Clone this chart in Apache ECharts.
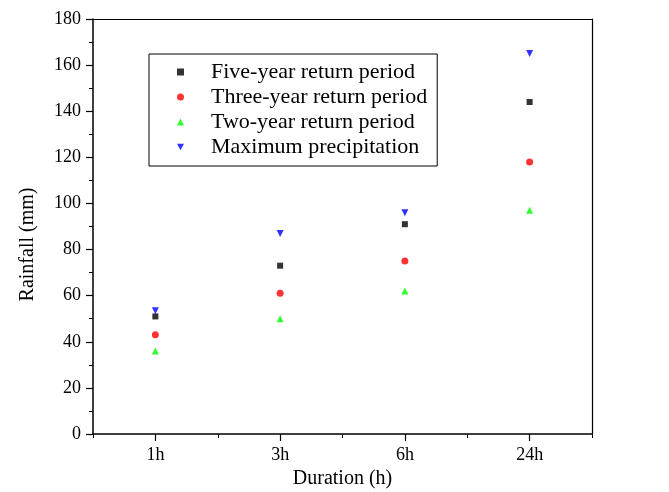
<!DOCTYPE html>
<html><head><meta charset="utf-8">
<script src="https://cdn.jsdelivr.net/npm/echarts@6/dist/echarts.min.js"></script>
<style>html,body{margin:0;padding:0;background:#fff}#c{width:669px;height:492px}</style>
</head><body><div id="c"></div>
<script>
const categories = ['1h', '3h', '6h', '24h'];
const fiveYear = [51, 73, 91, 144];
const threeYear = [43, 61, 75, 118];
const twoYear = [36, 50, 62, 97];
const maxPrecip = [53.5, 87, 96, 165];
const yTicks = [0, 20, 40, 60, 80, 100, 120, 140, 160, 180];

const font = 'Liberation Serif';
const chart = echarts.init(document.getElementById('c'), null, {renderer: 'canvas'});
const axisLine = {show: true, lineStyle: {color: '#000', width: 1.5}};
chart.setOption({
  animation: false,
  backgroundColor: '#fff',
  grid: {left: 93, right: 77, top: 19, bottom: 58, containLabel: false, outerBoundsMode: 'none'},
  legend: {
    orient: 'vertical', left: 149, top: 54,
    padding: [7, 10, 8, 28],
    itemWidth: 7, itemHeight: 7, itemGap: 3,
    borderColor: '#000', borderWidth: 1,
    textStyle: {fontFamily: font, fontSize: 22, color: '#000', lineHeight: 22, padding: [0, 0, 0, 22]},
    data: [
      {name: 'Five-year return period'},
      {name: 'Three-year return period'},
      {name: 'Two-year return period'},
      {name: 'Maximum precipitation', icon: 'path://M0,0L10,0L5,9Z'}
    ]
  },
  xAxis: [{
    type: 'category', data: categories, boundaryGap: true,
    name: 'Duration (h)', nameLocation: 'middle', nameGap: 35,
    nameTextStyle: {fontFamily: font, fontSize: 20, color: '#000'},
    axisLine: axisLine,
    axisTick: {show: true, alignWithLabel: true, length: 7, lineStyle: {color: '#000', width: 1.2}},
    axisLabel: {fontFamily: font, fontSize: 18, color: '#000', margin: 12},
    splitLine: {show: false}
  }, {
    type: 'value', position: 'bottom', min: 0, max: 4, interval: 1,
    axisLine: {show: false}, axisLabel: {show: false}, splitLine: {show: false},
    axisTick: {show: true, length: 4, lineStyle: {color: '#000', width: 1}}
  }, {
    type: 'category', position: 'top', data: categories,
    axisLine: {show: true, lineStyle: {color: '#000', width: 1.2}},
    axisTick: {show: false}, axisLabel: {show: false}
  }],
  yAxis: [{
    type: 'value', min: 0, max: 180, interval: 20,
    name: 'Rainfall (mm)', nameLocation: 'middle', nameGap: 55,
    nameTextStyle: {fontFamily: font, fontSize: 20, color: '#000', padding: [0, 36, 0, 0]},
    axisLine: axisLine,
    axisTick: {show: true, length: 7, lineStyle: {color: '#000', width: 1.2}},
    minorTick: {show: true, splitNumber: 2, length: 4, lineStyle: {color: '#000', width: 1}},
    axisLabel: {fontFamily: font, fontSize: 18, color: '#000', margin: 12,
      formatter: v => yTicks.includes(v) ? String(v) : ''},
    splitLine: {show: false}
  }, {
    type: 'value', position: 'right', min: 0, max: 180,
    axisLine: {show: true, lineStyle: {color: '#000', width: 1.2}},
    axisTick: {show: false}, axisLabel: {show: false}, splitLine: {show: false}
  }],
  series: [
    {name: 'Five-year return period', type: 'scatter', data: fiveYear, symbol: 'rect', symbolSize: 6, itemStyle: {color: '#000'}},
    {name: 'Three-year return period', type: 'scatter', data: threeYear, symbol: 'circle', symbolSize: 7, itemStyle: {color: '#ff0000'}},
    {name: 'Two-year return period', type: 'scatter', data: twoYear, symbol: 'triangle', symbolSize: 7, itemStyle: {color: '#00ff00'}},
    {name: 'Maximum precipitation', type: 'scatter', data: maxPrecip, symbol: 'triangle', symbolRotate: 180, symbolSize: 7, itemStyle: {color: '#0000ff'}}
  ]
});
</script></body></html>
